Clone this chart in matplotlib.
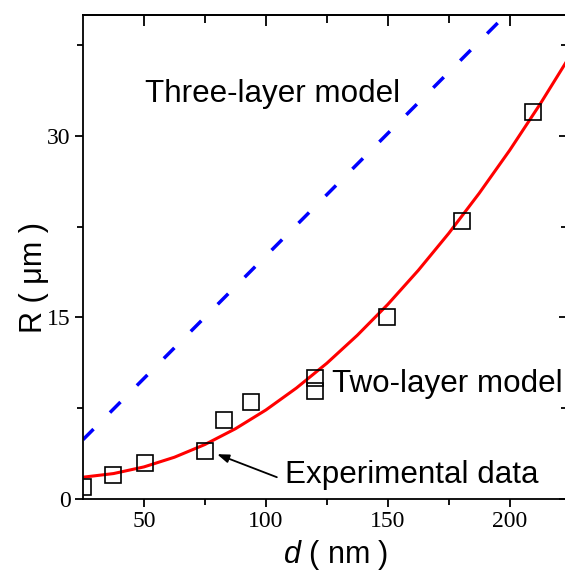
import matplotlib
matplotlib.use("Agg")
import matplotlib.pyplot as plt
from matplotlib.ticker import NullFormatter

# 字体设置
plt.rcParams["font.family"] = "Liberation Sans"
plt.rcParams["mathtext.fontset"] = "custom"
plt.rcParams["mathtext.it"] = "Liberation Sans:italic"
plt.rcParams["mathtext.rm"] = "Liberation Sans"

# 实验数据 (方块)
exp_d = [25, 37.3, 50.3, 75.1, 83.0, 94.0, 120.0, 120.0, 149.7, 180.6, 209.4]
exp_R = [1.0, 2.0, 3.0, 4.0, 6.5, 8.0, 10.0, 8.9, 15.0, 23.0, 32.0]

# 两层模型 (红色实线)
two_d = [25, 37.5, 50, 62.5, 75, 87.5, 100, 112.5, 125, 137.5, 150,
         162.5, 175, 187.5, 200, 212.5, 225]
two_R = [1.80, 2.10, 2.65, 3.45, 4.50, 5.80, 7.35, 9.16, 11.21, 13.52, 16.07,
         18.88, 21.94, 25.25, 28.80, 32.62, 36.68]

# 三层模型 (蓝色虚线)
three_d = [25, 196]
three_R = [4.9, 39.5]

# 刻度
x_major = [50, 100, 150, 200]
x_minor = [75, 125, 175]
y_major = [0, 15, 30]
y_minor = [7.5, 22.5, 37.5]

tick_font = {"family": "Liberation Serif", "size": 17}
label_size = 22.6

fig = plt.figure(figsize=(5.65, 5.71), dpi=100)
ax = fig.add_axes([0.1469, 0.1261, 0.8566, 0.8482])

ax.plot(three_d, three_R, color="#0000ff", lw=2.5, dashes=(4.3, 6.7),
        dash_capstyle="butt")
ax.plot(two_d, two_R, color="#ff0000", lw=2.2)
ax.plot(exp_d, exp_R, ls="none", marker="s", ms=11, mfc="none",
        mec="black", mew=1.2)

ax.set_xlim(25, 223.5)
ax.set_ylim(0, 40)

ax.set_xticks(x_major)
ax.set_xticks(x_minor, minor=True)
ax.set_yticks(y_major)
ax.set_yticks(y_minor, minor=True)
ax.tick_params(which="major", direction="out", length=6, width=1.3, pad=3)
ax.tick_params(which="minor", direction="out", length=4, width=1.3)
for lab in ax.get_xticklabels() + ax.get_yticklabels():
    lab.set_fontfamily(tick_font["family"])
    lab.set_fontsize(tick_font["size"])

for s in ax.spines.values():
    s.set_linewidth(1.3)

# 上侧和右侧的刻度朝内
secx = ax.secondary_xaxis("top")
secx.set_xticks(x_major)
secx.set_xticks(x_minor, minor=True)
secx.xaxis.set_major_formatter(NullFormatter())
secx.tick_params(which="major", direction="in", length=8, width=1.3)
secx.tick_params(which="minor", direction="in", length=6, width=1.3)
secx.spines["top"].set_linewidth(1.3)

secy = ax.secondary_yaxis("right")
secy.set_yticks(y_major)
secy.set_yticks(y_minor, minor=True)
secy.yaxis.set_major_formatter(NullFormatter())
secy.tick_params(which="major", direction="in", length=6, width=1.3)
secy.tick_params(which="minor", direction="in", length=4, width=1.3)

ax.set_xlabel(r"$\mathit{d}$ ( nm )", fontsize=22)
ax.xaxis.set_label_coords(0.523, -0.080)
ax.set_ylabel("R ( μm )", fontsize=22)
ax.yaxis.set_label_coords(-0.071, 0.457)

ax.text(50.5, 32.8, "Three-layer model", fontsize=label_size, ha="left", va="baseline")
ax.text(127.1, 8.84, "Two-layer model", fontsize=label_size, ha="left", va="baseline")
ax.text(107.9, 1.3, "Experimental data", fontsize=label_size, ha="left", va="baseline")
ax.annotate("", xy=(80, 3.7), xytext=(104.5, 1.8),
            arrowprops=dict(arrowstyle="-|>,head_length=0.7,head_width=0.25",
                            color="black", lw=1.3, shrinkA=0, shrinkB=0))

fig.savefig("out.png", dpi=100)
